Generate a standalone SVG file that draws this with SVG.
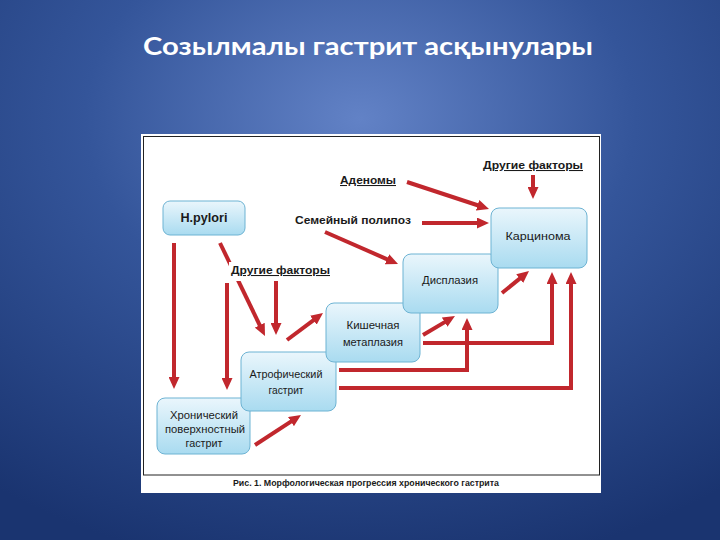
<svg xmlns="http://www.w3.org/2000/svg" width="720" height="540" viewBox="0 0 720 540">
  <defs>
    <radialGradient id="bg" cx="50%" cy="22%" r="85%">
      <stop offset="0" stop-color="#6282c6"/>
      <stop offset="0.45" stop-color="#34559a"/>
      <stop offset="1" stop-color="#1a3470"/>
    </radialGradient>
    <linearGradient id="box" x1="0" y1="0" x2="0" y2="1">
      <stop offset="0" stop-color="#eaf6fc"/>
      <stop offset="1" stop-color="#a9dbf0"/>
    </linearGradient>
    <marker id="ah" markerUnits="userSpaceOnUse" markerWidth="12" markerHeight="11" refX="4" refY="5.5" orient="auto">
      <path d="M0,0 L12,5.5 L0,11 z" fill="#c1272d"/>
    </marker>
    <style>
      .title { font-family: Lato, "Liberation Sans", sans-serif; font-weight: bold; font-size: 24px; fill: #ffffff; }
      .node rect { fill: url(#box); stroke: #6db3d3; stroke-width: 1; }
      .node text { font-family: "Liberation Sans", "DejaVu Sans", sans-serif; font-size: 10px; fill: #1a1a1a; text-anchor: middle; }
      .lbl { font-family: "Liberation Sans", "DejaVu Sans", sans-serif; font-size: 10.5px; font-weight: bold; fill: #1a1a1a; }
      .u { text-decoration: underline; }
      .conn path { fill: none; stroke: #c1272d; stroke-width: 4; stroke-linecap: butt; marker-end: url(#ah); }
      .cap { font-family: "Liberation Sans", "DejaVu Sans", sans-serif; font-size: 8.5px; font-weight: bold; fill: #1a1a1a; text-anchor: middle; }
    </style>
  </defs>

  <rect x="0" y="0" width="720" height="540" fill="url(#bg)"/>
  <text class="title" x="368" y="55" text-anchor="middle" textLength="450" lengthAdjust="spacingAndGlyphs">Созылмалы гастрит асқынулары</text>

  <!-- white panel -->
  <rect x="141" y="134" width="460" height="359" fill="#ffffff"/>
  <rect x="143.5" y="136.5" width="456" height="338.5" fill="none" stroke="#222222" stroke-width="1"/>
  <text class="cap" x="366" y="486" textLength="266" lengthAdjust="spacingAndGlyphs">Рис. 1. Морфологическая прогрессия хронического гастрита</text>

  <!-- connectors -->
  <g id="connectors" class="conn">
    <path d="M174,243 V381"/>
    <path d="M227,283 V382"/>
    <path d="M220,243 L261.5,328.8"/>
    <path d="M276,280 V327"/>
    <path d="M287,340 L316.6,317.8"/>
    <path d="M255,445 L294.3,419.4"/>
    <path d="M423,335 L448.1,320.1"/>
    <path d="M502,293 L522.8,276.1"/>
    <path d="M407,182 L481.4,206.5"/>
    <path d="M422,223 H481"/>
    <path d="M325,232 L390.7,260.8"/>
    <path d="M533,175 V191"/>
    <path d="M423,343 H552 V280"/>
    <path d="M339,370 H467 V326"/>
    <path d="M339,388 H571 V280"/>
  </g>

  <!-- labels -->
  <g id="label-adenomy">
    <text class="lbl u" x="340" y="184" textLength="56" lengthAdjust="spacingAndGlyphs">Аденомы</text>
  </g>
  <g id="label-polipoz">
    <text class="lbl" x="295" y="224" textLength="116" lengthAdjust="spacingAndGlyphs">Семейный полипоз</text>
  </g>
  <g id="label-factors-left">
    <rect x="229" y="262" width="104" height="19" fill="#ffffff"/>
    <text class="lbl u" x="231" y="274" textLength="99" lengthAdjust="spacingAndGlyphs">Другие факторы</text>
  </g>
  <g id="label-factors-right">
    <text class="lbl u" x="483" y="169" textLength="100" lengthAdjust="spacingAndGlyphs">Другие факторы</text>
  </g>

  <!-- nodes -->
  <g id="hpylori" class="node">
    <rect x="163" y="201" width="82" height="34" rx="7"/>
    <text x="204" y="222" style="font-size:12.5px;font-weight:bold" textLength="47" lengthAdjust="spacingAndGlyphs">H.pylori</text>
  </g>
  <g id="chronic" class="node">
    <rect x="157" y="398" width="93" height="56" rx="8"/>
    <text x="204" y="419" textLength="68" lengthAdjust="spacingAndGlyphs">Хронический</text>
    <text x="205" y="433" textLength="80" lengthAdjust="spacingAndGlyphs">поверхностный</text>
    <text x="204" y="447" textLength="37" lengthAdjust="spacingAndGlyphs">гастрит</text>
  </g>
  <g id="atrophic" class="node">
    <rect x="241" y="352" width="95" height="59" rx="8"/>
    <text x="286" y="378" textLength="73" lengthAdjust="spacingAndGlyphs">Атрофический</text>
    <text x="286" y="394" textLength="35" lengthAdjust="spacingAndGlyphs">гастрит</text>
  </g>
  <g id="metaplasia" class="node">
    <rect x="326" y="303" width="94" height="59" rx="8"/>
    <text x="373" y="329" textLength="53" lengthAdjust="spacingAndGlyphs">Кишечная</text>
    <text x="373" y="346" textLength="60" lengthAdjust="spacingAndGlyphs">метаплазия</text>
  </g>
  <g id="dysplasia" class="node">
    <rect x="403" y="254" width="95" height="59" rx="8"/>
    <text x="450" y="284" textLength="56" lengthAdjust="spacingAndGlyphs">Дисплазия</text>
  </g>
  <g id="carcinoma" class="node">
    <rect x="491" y="208" width="96" height="60" rx="8"/>
    <text x="538" y="240" textLength="65" lengthAdjust="spacingAndGlyphs">Карцинома</text>
  </g>
</svg>
